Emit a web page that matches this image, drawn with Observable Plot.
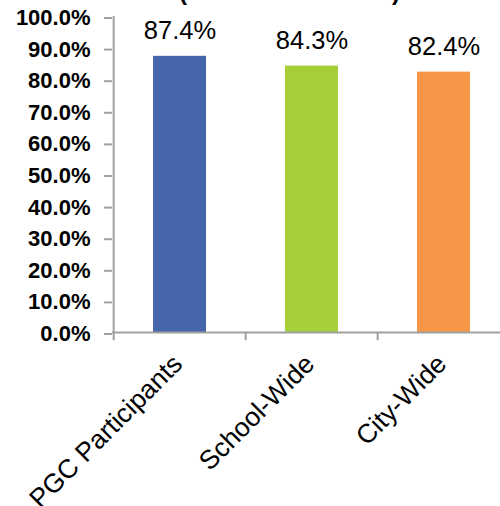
<!DOCTYPE html>
<html><head><meta charset="utf-8">
<script src="https://cdn.jsdelivr.net/npm/d3@7"></script>
<script src="https://cdn.jsdelivr.net/npm/@observablehq/plot@0.6"></script>
<style>
body{margin:0;background:#fff;font-family:"Liberation Sans",Arial,sans-serif;}
#wrap{position:relative;width:500px;height:506px;overflow:hidden;}
.paren{position:absolute;font-weight:bold;font-size:24px;line-height:24px;top:-20px;font-family:"Liberation Sans",Arial,sans-serif;}
#chart{position:absolute;left:0;top:0;}
</style></head><body>
<div id="wrap"><div id="chart"></div><div class="paren" style="left:179px">(</div><div class="paren" style="left:392px">)</div></div>
<script>
const categories = ["PGC Participants", "School-Wide", "City-Wide"];
const values = [0.874, 0.843, 0.824];
const colors = ["#4565AD", "#A6CE39", "#F79646"];
const yTicks = [0, 0.1, 0.2, 0.3, 0.4, 0.5, 0.6, 0.7, 0.8, 0.9, 1.0];

const data = categories.map((c, i) => ({category: c, value: values[i]}));
const W = 500, H = 506, mL = 112, mR = -10, mT = 16, mB = 174;
const step = (W - mL - mR) / categories.length;
const axisColor = "#A0A0A0";

const chart = Plot.plot({
  width: W, height: H,
  marginTop: mT, marginLeft: mL, marginRight: mR, marginBottom: mB,
  style: {fontFamily: '"Liberation Sans", Arial, sans-serif', background: "transparent", overflow: "visible", color: "black"},
  x: {domain: categories, paddingInner: 0.6, paddingOuter: 0.3, label: null},
  y: {domain: [0, 1], label: null},
  color: {domain: categories, range: colors},
  marks: [
    Plot.barY(data, {x: "category", y: "value", fill: "category"}),
    Plot.ruleX([categories[0]], {dx: -step / 2, y1: 0, y2: 1, stroke: axisColor, strokeWidth: 2}),
    Plot.ruleY([0], {stroke: axisColor, strokeWidth: 2}),
    Plot.ruleX(categories, {x: d => d, dx: -step / 2, y1: 0, y2: -0.026, stroke: axisColor, strokeWidth: 2}),
    Plot.axisY({ticks: yTicks, tickFormat: d3.format(".1%"), tickSize: 8, tickPadding: 14,
      fontSize: 22, fontWeight: "bold", stroke: axisColor, strokeWidth: 2, fill: "black", dy: 1.5}),
    Plot.axisX({tickSize: 0, tickPadding: 27, tickRotate: -45, fontSize: 26.5, fill: "black", dx: -2}),
    Plot.text(data, {x: "category", y: "value", text: d => d3.format(".1%")(d.value),
      dy: -17, lineAnchor: "bottom", fontSize: 25.5, fill: "black"})
  ]
});
document.getElementById("chart").append(chart);
</script>
</body></html>
